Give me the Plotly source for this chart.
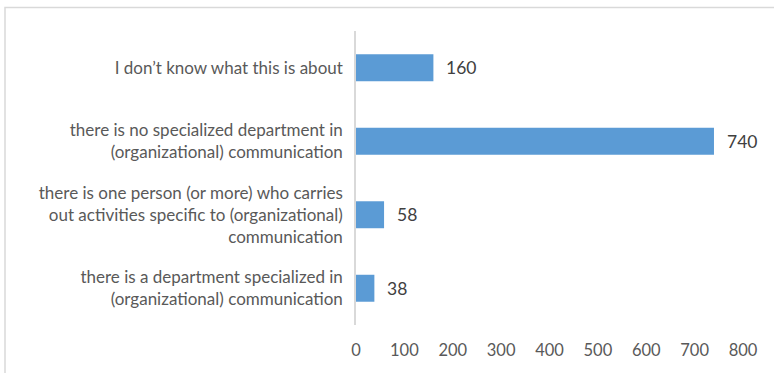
import plotly.graph_objects as go

categories = [
    "I don’t know what this is about",
    "there is no specialized department in<br>(organizational) communication",
    "there is one person (or more) who carries<br>out activities specific to (organizational)<br>communication",
    "there is a department specialized in<br>(organizational) communication",
]
values = [160, 740, 58, 38]
x_ticks = [0, 100, 200, 300, 400, 500, 600, 700, 800]

FONT = "Lato"
W, H = 774, 373
L, R, T, B = 356, 31, 31, 48

fig = go.Figure()
fig.add_trace(go.Bar(
    y=categories, x=values, orientation="h",
    marker=dict(color="#5B9BD5", line=dict(color="#5B9BD5", width=0)),
    hoverinfo="skip",
))
for c, v in zip(categories, values):
    fig.add_annotation(x=v, y=c, text=str(v), showarrow=False,
                       xanchor="left", xshift=11,
                       font=dict(family=FONT, size=17.5, color="#404040"))

pw = W - L - R
ph = H - T - B
fig.add_shape(type="rect", xref="paper", yref="paper",
              x0=(5 - L) / pw, x1=1 + (R + 20) / pw,
              y0=-(B + 20) / ph, y1=1 + (T - 7.5) / ph,
              line=dict(color="#d9d9d9", width=1.5), layer="below")

fig.update_layout(
    width=W, height=H,
    margin=dict(l=L, r=R, t=T, b=B, pad=0),
    paper_bgcolor="white", plot_bgcolor="white",
    showlegend=False, bargap=0.633,
    font=dict(family=FONT, size=15, color="#595959"),
    xaxis=dict(range=[0, 800], tickvals=x_ticks, ticktext=[str(t) for t in x_ticks],
               showgrid=False, zeroline=False, showline=False,
               ticks="", ticklabelstandoff=13,
               tickfont=dict(family=FONT, size=16.5, color="#595959")),
    yaxis=dict(autorange="reversed", showgrid=False, zeroline=False,
               showline=True, linecolor="#d9d9d9", linewidth=1.5,
               ticks="", ticklabelstandoff=8,
               tickfont=dict(family=FONT, size=17, color="#595959")),
)
fig.write_html("out.html")
